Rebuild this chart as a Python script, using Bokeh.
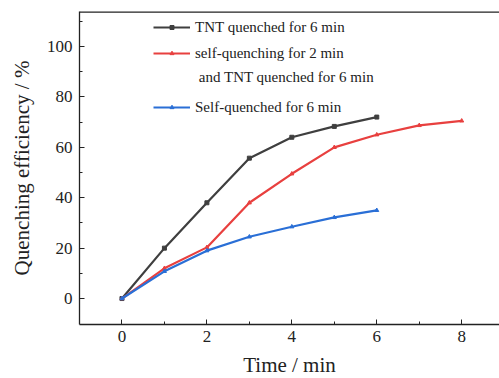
from bokeh.plotting import figure
from bokeh.models import (Range1d, FixedTicker, Legend, LegendItem, Label, Span)
from bokeh.embed import file_html
from bokeh.resources import INLINE

# Data
time_tnt = [0, 1, 2, 3, 4, 5, 6]
eff_tnt = [0, 20.0, 38.0, 55.7, 64.0, 68.3, 72.0]
time_mix = [0, 1, 2, 3, 4, 5, 6, 7, 8]
eff_mix = [0, 12.0, 20.3, 38.0, 49.5, 60.0, 65.0, 68.7, 70.5]
time_self = [0, 1, 2, 3, 4, 5, 6]
eff_self = [0, 10.8, 19.0, 24.5, 28.5, 32.2, 35.0]

labels = ["TNT quenched for 6 min", "self-quenching for 2 min",
          "and TNT quenched for 6 min", "Self-quenched for 6 min"]
x_title = "Time / min"
y_title = "Quenching efficiency / %"
x_ticks = [0, 2, 4, 6, 8]
x_minor = [1, 3, 5, 7]
y_ticks = [0, 20, 40, 60, 80, 100]
y_minor = [10, 30, 50, 70, 90, 110]

C_BLACK = "#3f3f3f"
C_RED = "#e8403f"
C_BLUE = "#2a6fd6"
FONT = "Liberation Serif"

Y_START, Y_END = -10.3, 113.9
p = figure(width=499, height=382, output_backend="svg", toolbar_location=None,
           x_range=Range1d(-1, 8.89), y_range=Range1d(Y_START, Y_END),
           min_border_left=79, min_border_right=0, min_border_top=11, min_border_bottom=58)
p.outline_line_color = None
p.xgrid.visible = False
p.ygrid.visible = False
p.background_fill_color = "white"

for ax in (p.xaxis[0], p.yaxis[0]):
    ax.axis_line_color = "#222222"
    ax.axis_line_width = 1.3
    ax.major_tick_in = 5
    ax.major_tick_out = 0
    ax.minor_tick_in = 3
    ax.minor_tick_out = 0
    ax.major_tick_line_color = "#222222"
    ax.minor_tick_line_color = "#222222"
    ax.major_label_text_font = FONT
    ax.major_label_text_font_size = "17px"
    ax.major_label_text_color = "#222222"
    ax.axis_label_text_font = FONT
    ax.axis_label_text_font_size = "21px"
    ax.axis_label_text_font_style = "normal"
    ax.axis_label_text_color = "#222222"

p.xaxis[0].ticker = FixedTicker(ticks=x_ticks, minor_ticks=x_minor)
p.yaxis[0].ticker = FixedTicker(ticks=y_ticks, minor_ticks=y_minor)
p.xaxis[0].axis_label = x_title
p.yaxis[0].axis_label = y_title
p.xaxis[0].major_label_standoff = 6
p.xaxis[0].axis_label_standoff = 8
p.yaxis[0].major_label_standoff = 7
p.yaxis[0].axis_label_standoff = 10

p.add_layout(Span(location=Y_END, dimension="width", line_color="#222222", line_width=2.5))

r1 = p.line(time_tnt, eff_tnt, line_color=C_BLACK, line_width=2.2)
m1 = p.scatter(time_tnt, eff_tnt, marker="square", size=4, color=C_BLACK)
r2 = p.line(time_mix, eff_mix, line_color=C_RED, line_width=2.2)
m2 = p.scatter(time_mix, eff_mix, marker="triangle", size=4, color=C_RED)
r3 = p.line(time_self, eff_self, line_color=C_BLUE, line_width=2.2)
m3 = p.scatter(time_self, eff_self, marker="triangle", size=4, color=C_BLUE)

def mk_legend(items, loc):
    lg = Legend(items=items, location=loc, padding=0, margin=0, spacing=6,
                glyph_width=37, glyph_height=10, label_height=20, label_standoff=5,
                border_line_color=None, background_fill_alpha=0,
                label_text_font=FONT, label_text_font_size="15px",
                label_text_color="#222222")
    return lg

lg1 = mk_legend([LegendItem(label=labels[0], renderers=[r1, m1]),
                 LegendItem(label=labels[1], renderers=[r2, m2])], (74, 261))
lg2 = mk_legend([LegendItem(label=labels[3], renderers=[r3, m3])], (74, 207))
p.add_layout(lg1, "center")
p.add_layout(lg2, "center")

extra = Label(x=1.81, y=88.1, text=labels[2], text_font=FONT, text_font_size="15px",
              text_color="#222222", text_baseline="middle")
p.add_layout(extra)

open("out.html", "w").write(file_html(p, INLINE))
